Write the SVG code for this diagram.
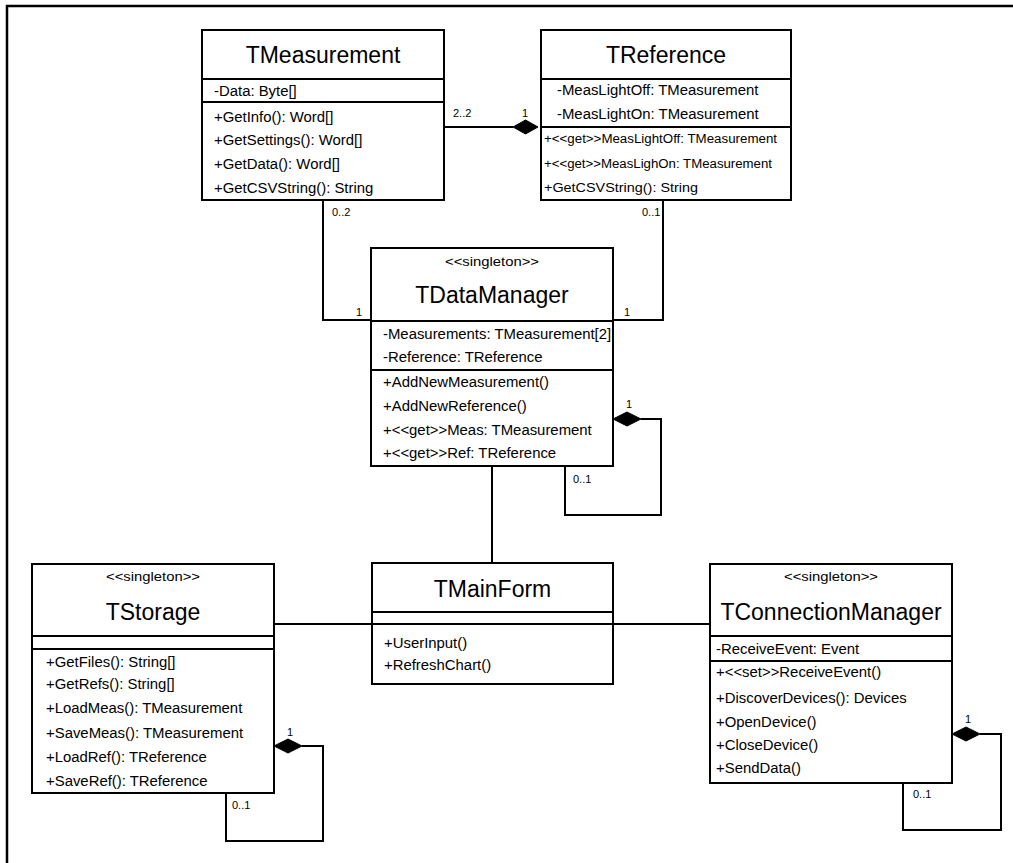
<svg xmlns="http://www.w3.org/2000/svg" width="1013" height="863" viewBox="0 0 1013 863">
<style>
.box{fill:#fff;stroke:#000;stroke-width:2}
.sep{stroke:#000;stroke-width:2}
.ln{fill:none;stroke:#000;stroke-width:2}
.dia{fill:#000;stroke:#000;stroke-width:1}
text{font-family:"Liberation Sans",Arial,sans-serif;fill:#000}
.t{font-size:23px;text-anchor:middle}
.s{font-size:12.5px;text-anchor:middle}
.m{font-size:14.9px}
.sm{font-size:12.5px}
.l{font-size:11px}
</style>
<rect width="1013" height="863" fill="#fff"/>
<path d="M7,863 V6 H1013" fill="none" stroke="#000" stroke-width="2.5"/>

<g id="connectors">
<path class="ln" d="M444,127 H513"/>
<polygon class="dia" points="513,127 525.5,120 538,127 525.5,134"/>
<text class="l" x="453" y="117">2..2</text>
<text class="l" x="522" y="117">1</text>
<path class="ln" d="M323,200 V320 H371"/>
<text class="l" x="332" y="216">0..2</text>
<text class="l" x="356" y="316">1</text>
<path class="ln" d="M663,200 V320 H613"/>
<text class="l" x="642" y="216">0..1</text>
<text class="l" x="624" y="316">1</text>
<path class="ln" d="M641,419 H661 V515 H565 V466"/>
<polygon class="dia" points="613,419 627,412 641,419 627,426"/>
<text class="l" x="626" y="408">1</text>
<text class="l" x="573" y="483">0..1</text>
<path class="ln" d="M492,466 V563"/>
<path class="ln" d="M274,624 H372"/>
<path class="ln" d="M613,624 H710"/>
<path class="ln" d="M302,746 H323 V841 H226 V793"/>
<polygon class="dia" points="274,746 288,739 302,746 288,753"/>
<text class="l" x="287" y="736">1</text>
<text class="l" x="232" y="809">0..1</text>
<path class="ln" d="M980,734 H1001 V830 H903 V783"/>
<polygon class="dia" points="952,734 966,727 980,734 966,741"/>
<text class="l" x="965" y="723">1</text>
<text class="l" x="913" y="798">0..1</text>
</g>

<g id="TMeasurement">
<rect class="box" x="202" y="30" width="242" height="170"/>
<line class="sep" x1="202" y1="79" x2="444" y2="79"/>
<line class="sep" x1="202" y1="102" x2="444" y2="102"/>
<text class="t" x="323" y="63">TMeasurement</text>
<text class="m" x="214" y="96">-Data: Byte[]</text>
<text class="m" x="214" y="122">+GetInfo(): Word[]</text>
<text class="m" x="214" y="145">+GetSettings(): Word[]</text>
<text class="m" x="214" y="169">+GetData(): Word[]</text>
<text class="m" x="214" y="193">+GetCSVString(): String</text>
</g>

<g id="TReference">
<rect class="box" x="541" y="30" width="250" height="170"/>
<line class="sep" x1="541" y1="79" x2="791" y2="79"/>
<line class="sep" x1="541" y1="127" x2="791" y2="127"/>
<text class="t" x="666" y="63">TReference</text>
<text class="m" x="557" y="95">-MeasLightOff: TMeasurement</text>
<text class="m" x="557" y="119">-MeasLightOn: TMeasurement</text>
<text class="sm" x="544" y="143" textLength="233" lengthAdjust="spacingAndGlyphs">+&lt;&lt;get&gt;&gt;MeasLightOff: TMeasurement</text>
<text class="sm" x="544" y="168" textLength="228" lengthAdjust="spacingAndGlyphs">+&lt;&lt;get&gt;&gt;MeasLighOn: TMeasurement</text>
<text class="sm" x="544" y="192" textLength="154" lengthAdjust="spacingAndGlyphs">+GetCSVString(): String</text>
</g>

<g id="TDataManager">
<rect class="box" x="371" y="248" width="242" height="218"/>
<line class="sep" x1="371" y1="321" x2="613" y2="321"/>
<line class="sep" x1="371" y1="370" x2="613" y2="370"/>
<text class="s" x="492" y="266" textLength="94" lengthAdjust="spacingAndGlyphs">&lt;&lt;singleton&gt;&gt;</text>
<text class="t" x="492" y="303">TDataManager</text>
<text class="m" x="383" y="339">-Measurements: TMeasurement[2]</text>
<text class="m" x="383" y="362">-Reference: TReference</text>
<text class="m" x="383" y="387">+AddNewMeasurement()</text>
<text class="m" x="383" y="411">+AddNewReference()</text>
<text class="m" x="383" y="435">+&lt;&lt;get&gt;&gt;Meas: TMeasurement</text>
<text class="m" x="383" y="458">+&lt;&lt;get&gt;&gt;Ref: TReference</text>
</g>

<g id="TMainForm">
<rect class="box" x="372" y="563" width="241" height="121"/>
<line class="sep" x1="372" y1="612" x2="613" y2="612"/>
<line class="sep" x1="372" y1="624" x2="613" y2="624"/>
<text class="t" x="492.5" y="597">TMainForm</text>
<text class="m" x="384" y="648">+UserInput()</text>
<text class="m" x="384" y="670">+RefreshChart()</text>
</g>

<g id="TStorage">
<rect class="box" x="32" y="564" width="242" height="229"/>
<line class="sep" x1="32" y1="636" x2="274" y2="636"/>
<line class="sep" x1="32" y1="649" x2="274" y2="649"/>
<text class="s" x="153" y="581" textLength="94" lengthAdjust="spacingAndGlyphs">&lt;&lt;singleton&gt;&gt;</text>
<text class="t" x="153" y="620">TStorage</text>
<text class="m" x="46" y="667">+GetFiles(): String[]</text>
<text class="m" x="46" y="689">+GetRefs(): String[]</text>
<text class="m" x="46" y="713">+LoadMeas(): TMeasurement</text>
<text class="m" x="46" y="738">+SaveMeas(): TMeasurement</text>
<text class="m" x="46" y="762">+LoadRef(): TReference</text>
<text class="m" x="46" y="786">+SaveRef(): TReference</text>
</g>

<g id="TConnectionManager">
<rect class="box" x="710" y="564" width="242" height="219"/>
<line class="sep" x1="710" y1="636" x2="952" y2="636"/>
<line class="sep" x1="710" y1="661" x2="952" y2="661"/>
<text class="s" x="831" y="581" textLength="94" lengthAdjust="spacingAndGlyphs">&lt;&lt;singleton&gt;&gt;</text>
<text class="t" x="831" y="620">TConnectionManager</text>
<text class="m" x="716" y="654">-ReceiveEvent: Event</text>
<text class="m" x="716" y="677">+&lt;&lt;set&gt;&gt;ReceiveEvent()</text>
<text class="m" x="716" y="703">+DiscoverDevices(): Devices</text>
<text class="m" x="716" y="727">+OpenDevice()</text>
<text class="m" x="716" y="750">+CloseDevice()</text>
<text class="m" x="716" y="773">+SendData()</text>
</g>
</svg>
